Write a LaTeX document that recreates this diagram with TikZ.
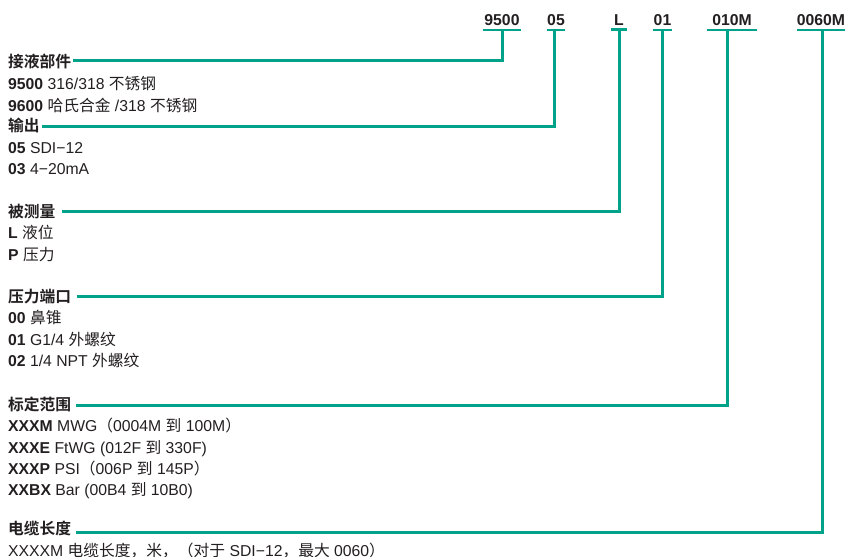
\documentclass[tikz,border=0pt]{standalone}
\usepackage{fontspec}
\setmainfont{Liberation Sans}
\newfontfamily\cjk{Noto Sans CJK SC}[Scale=1.0,BoldFont={Noto Sans CJK SC Bold}]
\newcommand\zh[1]{{\cjk #1}}
\definecolor{teal1}{RGB}{0,163,137}
\definecolor{ink}{RGB}{35,31,32}
\begin{document}
\begin{tikzpicture}[x=1pt,y=-1pt,
  txt/.style={anchor=base west, inner sep=0pt, font=\fontsize{15.75}{18}\selectfont, text=ink},
  head/.style={txt, font=\fontsize{15.75}{18}\selectfont\bfseries},
  code/.style={anchor=base, inner xsep=1pt, inner ysep=4pt, font=\fontsize{15.75}{18}\selectfont\bfseries, text=ink},
  conn/.style={draw=teal1, line width=3pt},
  uline/.style={draw=teal1, line width=2.5pt}]
\useasboundingbox (0,0) rectangle (847,557);

% codes at top
\node[code] (c1) at (502,25.5) {9500};
\node[code, inner xsep=0pt] (c2) at (556,25.5) {05};
\node[code, inner xsep=3pt] (c3) at (619,25.5) {L};
\node[code] (c4) at (662.5,25.5) {01};
\node[code, inner xsep=5pt] (c5) at (732,25.5) {010M};
\node[code, inner xsep=0pt] (c6) at (821,25.5) {0060M};
\foreach \c in {c1,c2,c3,c4,c5,c6} \draw[uline] (\c.south west) -- (\c.south east);

% left column
\node[head] (h1) at (8,67.5) {\zh{接液部件}};
\node[txt] (t11) at (8,89.5) {\textbf{9500} 316/318 \zh{不锈钢}};
\node[txt] (t12) at (8,111.5) {\textbf{9600} \zh{哈氏合金} /318 \zh{不锈钢}};
\node[head] (h2) at (8,131.5) {\zh{输出}};
\node[txt] (t21) at (8,153.5) {\textbf{05} SDI−12};
\node[txt] (t22) at (8,174.5) {\textbf{03} 4−20mA};
\node[head] (h3) at (8,217.5) {\zh{被测量}};
\node[txt] (t31) at (8,238.5) {\textbf{L} \zh{液位}};
\node[txt] (t32) at (8,260.5) {\textbf{P} \zh{压力}};
\node[head] (h4) at (8,302.5) {\zh{压力端口}};
\node[txt] (t41) at (8,323.5) {\textbf{00} \zh{鼻锥}};
\node[txt] (t42) at (8,345.5) {\textbf{01} G1/4 \zh{外螺纹}};
\node[txt] (t43) at (8,366.5) {\textbf{02} 1/4 NPT \zh{外螺纹}};
\node[head] (h5) at (8,410.5) {\zh{标定范围}};
\node[txt] (t51) at (8,431.5) {\textbf{XXXM} MWG\zh{（}0004M \zh{到} 100M\zh{）}};
\node[txt] (t52) at (8,453.5) {\textbf{XXXE} FtWG (012F \zh{到} 330F)};
\node[txt] (t53) at (8,474.5) {\textbf{XXXP} PSI\zh{（}006P \zh{到} 145P\zh{）}};
\node[txt] (t54) at (8,495.5) {\textbf{XXBX} Bar (00B4 \zh{到} 10B0)};
\node[head] (h6) at (8,534.5) {\zh{电缆长度}};
\node[txt] (t61) at (8,556.5) {XXXXM \zh{电缆长度，米，（对于} SDI−12\zh{，最大} 0060\zh{）}};

% connector ends
\coordinate (e1) at (72.7,60.3);
\coordinate (e2) at (42.3,126);
\coordinate (e3) at (61.7,211.7);
\coordinate (e4) at (77.3,296.7);
\coordinate (e5) at (76,405);
\coordinate (e6) at (76,532.7);
\coordinate (k1) at (502.3,60.3);
\coordinate (k2) at (554.3,126);
\coordinate (k3) at (619,211.7);
\coordinate (k4) at (662,296.7);
\coordinate (k5) at (727.5,405);
\coordinate (k6) at (822.3,532.7);

\draw[conn] (k1 |- c1.south) -- (k1) -- (e1);
\draw[conn] (k2 |- c2.south) -- (k2) -- (e2);
\draw[conn] (k3 |- c3.south) -- (k3) -- (e3);
\draw[conn] (k4 |- c4.south) -- (k4) -- (e4);
\draw[conn] (k5 |- c5.south) -- (k5) -- (e5);
\draw[conn] (k6 |- c6.south) -- (k6) -- (e6);
\end{tikzpicture}
\end{document}
